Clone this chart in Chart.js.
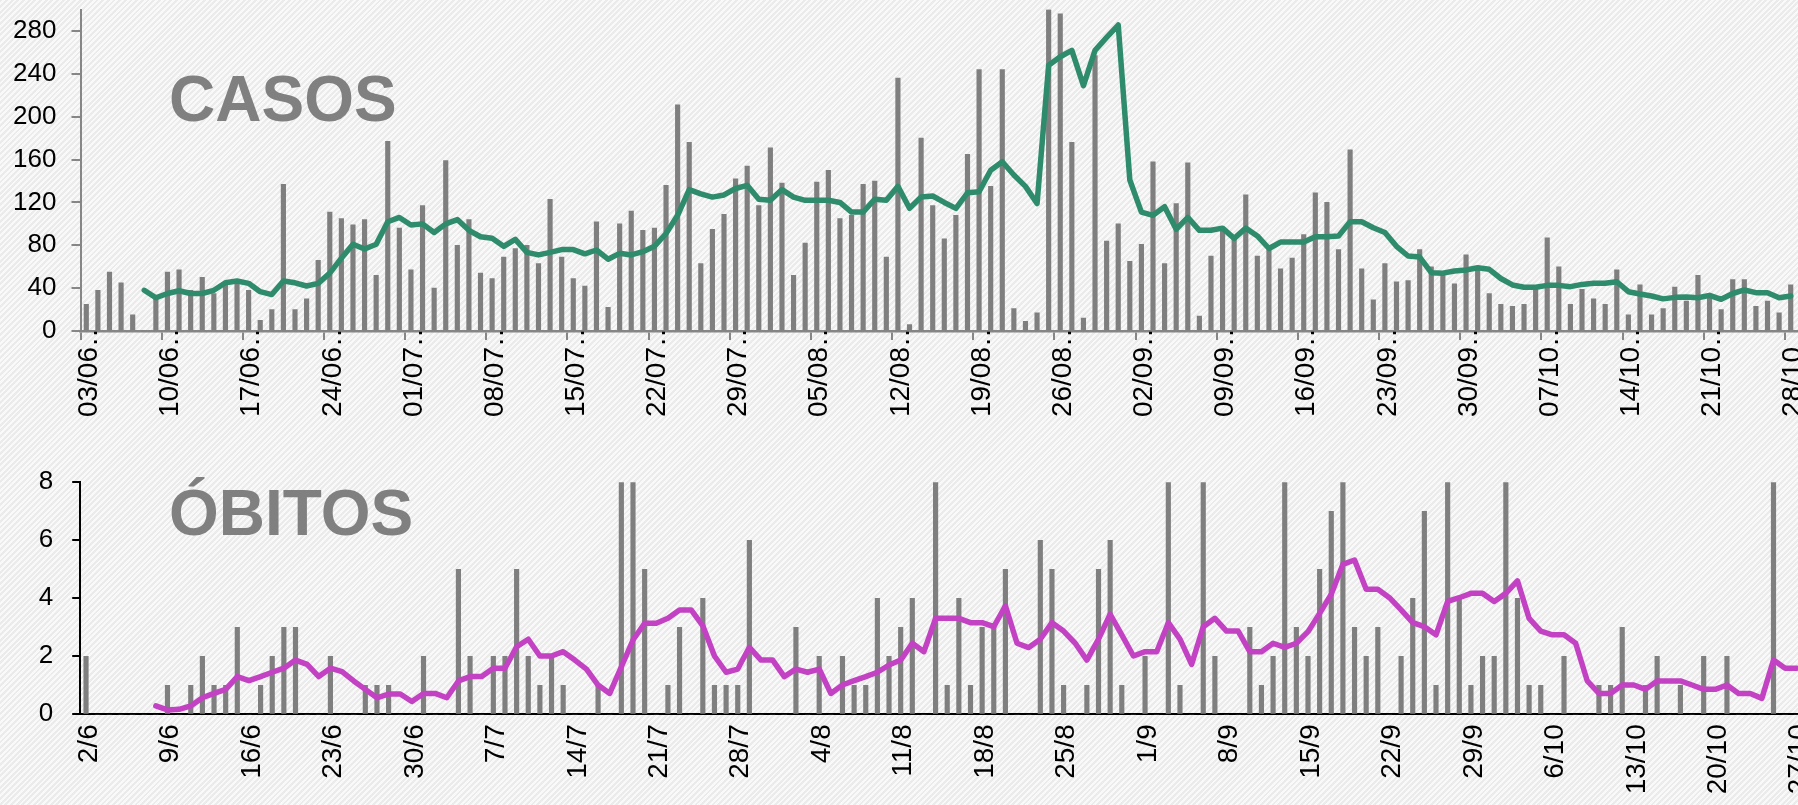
<!DOCTYPE html>
<html><head><meta charset="utf-8">
<script src="https://cdn.jsdelivr.net/npm/chart.js@4.4.1/dist/chart.umd.min.js"></script>
<style>
html,body{margin:0;padding:0;width:1798px;height:805px;overflow:hidden;}
body{position:relative;background:repeating-linear-gradient(135deg,#ebebeb 0px,#ebebeb 2px,#f9f9f9 2px,#f9f9f9 4px);font-family:'Liberation Sans',Arial,sans-serif;}
canvas{position:absolute;left:0;}
#c1{top:0px;}
#c2{top:440px;}
.title{position:absolute;left:169px;font-weight:bold;font-size:64px;line-height:64px;color:#808080;white-space:nowrap;font-family:'Liberation Sans',Arial,sans-serif;}
</style></head>
<body>
<canvas id="c1" width="1798" height="440"></canvas>
<canvas id="c2" width="1805" height="365"></canvas>
<div class="title" style="top:67px">CASOS</div>
<div class="title" style="top:481px">ÓBITOS</div>
<script>
// ---------- DATA ----------
const casosDates = ['03/06','04/06','05/06','06/06','07/06','08/06','09/06','10/06','11/06','12/06','13/06','14/06','15/06','16/06','17/06','18/06','19/06','20/06','21/06','22/06','23/06','24/06','25/06','26/06','27/06','28/06','29/06','30/06',
'01/07','02/07','03/07','04/07','05/07','06/07','07/07','08/07','09/07','10/07','11/07','12/07','13/07','14/07','15/07','16/07','17/07','18/07','19/07','20/07','21/07','22/07','23/07','24/07','25/07','26/07','27/07','28/07','29/07','30/07','31/07',
'01/08','02/08','03/08','04/08','05/08','06/08','07/08','08/08','09/08','10/08','11/08','12/08','13/08','14/08','15/08','16/08','17/08','18/08','19/08','20/08','21/08','22/08','23/08','24/08','25/08','26/08','27/08','28/08','29/08','30/08','31/08',
'01/09','02/09','03/09','04/09','05/09','06/09','07/09','08/09','09/09','10/09','11/09','12/09','13/09','14/09','15/09','16/09','17/09','18/09','19/09','20/09','21/09','22/09','23/09','24/09','25/09','26/09','27/09','28/09','29/09','30/09',
'01/10','02/10','03/10','04/10','05/10','06/10','07/10','08/10','09/10','10/10','11/10','12/10','13/10','14/10','15/10','16/10','17/10','18/10','19/10','20/10','21/10','22/10','23/10','24/10','25/10','26/10','27/10','28/10'];

const casosTickLabels = ['03/06…','10/06…','17/06…','24/06…','01/07…','08/07…','15/07…','22/07…','29/07…','05/08…','12/08…','19/08…','26/08…','02/09…','09/09…','16/09…','23/09…','30/09…','07/10…','14/10…','21/10…','28/10…'];

const casosYTicks = [0,40,80,120,160,200,240,280];

const casosDiarios = [25,38,55,45,15,0,30,55,57,38,50,35,43,45,38,10,20,137,20,30,66,111,105,99,104,52,177,96,57,117,40,159,80,104,54,49,69,77,80,63,
123,69,49,42,102,22,100,112,94,96,136,211,176,63,95,109,142,154,117,171,138,52,82,139,150,105,108,137,140,69,236,6,180,117,86,108,165,244,135,244,
21,9,17,300,296,176,12,257,84,100,65,81,158,63,119,157,14,70,93,86,127,70,76,58,68,90,129,120,76,169,58,29,63,46,47,76,60,55,44,71,
58,35,25,23,25,40,87,60,25,39,30,25,57,15,43,15,21,41,28,52,31,20,48,48,23,28,17,43];

const casosMedia = [null,null,null,null,null,38,31,35,37.6,35,35,38,45,46.7,44.5,36.7,34,46.7,45,42,44.5,54,68,81,76.5,81,102,106,99,100,92,100,104,94,88,86.5,79,85.5,73.4,71,
73.4,76,76,72,75.6,67,72.5,71,74,79,91,108,132,128,125,127,133,136,123,122,132,125,122,122,122,120,111,111,123,122,135,114.5,125,126,120,114.5,129,130,150,158,
145.6,135,119,248,256,262,229,262,274,285.6,141,111,108,116,95,106,94,94,96,86.5,96,88.7,77,83,83,83,88,88,88.7,102,102,96.4,92,79,70,69,54.4,54,56,57,
59,57.6,49,43,40.8,40.8,42.6,42.6,41.4,43.5,44.5,44.5,46,36.7,34.5,32.7,30,31.4,31.7,31,33.3,29.6,35,38.3,35.8,35.8,31,32.7];

const obitosDates = ['2/6','3/6','4/6','5/6','6/6','7/6','8/6','9/6','10/6','11/6','12/6','13/6','14/6','15/6','16/6','17/6','18/6','19/6','20/6','21/6','22/6','23/6','24/6','25/6','26/6','27/6','28/6','29/6','30/6',
'1/7','2/7','3/7','4/7','5/7','6/7','7/7','8/7','9/7','10/7','11/7','12/7','13/7','14/7','15/7','16/7','17/7','18/7','19/7','20/7','21/7','22/7','23/7','24/7','25/7','26/7','27/7','28/7','29/7','30/7','31/7',
'1/8','2/8','3/8','4/8','5/8','6/8','7/8','8/8','9/8','10/8','11/8','12/8','13/8','14/8','15/8','16/8','17/8','18/8','19/8','20/8','21/8','22/8','23/8','24/8','25/8','26/8','27/8','28/8','29/8','30/8','31/8',
'1/9','2/9','3/9','4/9','5/9','6/9','7/9','8/9','9/9','10/9','11/9','12/9','13/9','14/9','15/9','16/9','17/9','18/9','19/9','20/9','21/9','22/9','23/9','24/9','25/9','26/9','27/9','28/9','29/9','30/9',
'1/10','2/10','3/10','4/10','5/10','6/10','7/10','8/10','9/10','10/10','11/10','12/10','13/10','14/10','15/10','16/10','17/10','18/10','19/10','20/10','21/10','22/10','23/10','24/10','25/10','26/10','27/10'];

const obitosTickLabels = ['2/6','9/6','16/6','23/6','30/6','7/7','14/7','21/7','28/7','4/8','11/8','18/8','25/8','1/9','8/9','15/9','22/9','29/9','6/10','13/10','20/10','27/10'];

const obitosDiarios = [2,0,0,0,0,0,0,1,0,1,2,1,1,3,0,1,2,3,3,0,0,2,0,0,1,1,1,0,0,2,0,0,5,2,0,2,2,5,2,1,
2,1,0,0,1,0,8,8,5,0,1,3,0,4,1,1,1,6,0,0,0,3,0,2,0,2,1,1,4,2,3,4,0,8,1,4,1,3,3,5,
0,0,6,5,1,0,1,5,6,1,0,2,0,8,1,0,8,2,0,0,3,1,2,8,3,2,5,7,8,3,2,3,0,2,4,7,1,8,4,1,
2,2,8,4,1,1,0,2,0,0,1,1,3,0,1,2,0,1,0,2,0,2,0,0,0,8,0,0];

const obitosMedia = [null,null,null,null,null,null,0.29,0.15,0.17,0.29,0.57,0.72,0.86,1.3,1.16,1.3,1.45,1.59,1.87,1.72,1.3,1.59,1.47,1.15,0.86,0.57,0.7,0.7,0.44,0.72,0.72,0.57,1.15,1.3,1.3,1.59,1.59,2.33,2.59,2.01,
2.01,2.16,1.87,1.56,1.01,0.72,1.64,2.56,3.14,3.14,3.31,3.6,3.6,3.05,2.01,1.45,1.56,2.31,1.87,1.87,1.3,1.56,1.45,1.56,0.72,1.01,1.16,1.3,1.45,1.7,1.87,2.45,2.16,3.31,3.31,3.31,3.16,3.16,3.02,3.74,
2.45,2.3,2.59,3.16,2.87,2.45,1.87,2.59,3.45,2.74,2.01,2.16,2.16,3.16,2.59,1.72,3.02,3.31,2.87,2.87,2.16,2.16,2.45,2.31,2.45,2.85,3.48,4.14,5.17,5.32,4.31,4.31,4.02,3.6,3.16,3.02,2.74,3.89,4.02,4.17,
4.17,3.89,4.17,4.6,3.31,2.87,2.74,2.74,2.45,1.15,0.72,0.72,1.01,1.01,0.86,1.15,1.15,1.15,1.01,0.86,0.86,1.01,0.72,0.72,0.55,1.87,1.59,1.59];

// ---------- STYLE ----------
const FONT = "'Liberation Sans', Arial, sans-serif";
const BAR = '#7f7f7f';
const AXIS_GRAY = '#868686';
const GREEN = '#2e8b6c';
const MAGENTA = '#c342c3';
const TRANSPARENT = 'rgba(0,0,0,0)';
Chart.defaults.font.family = FONT;

function fixY(width) {
  return s => { s.width = width; s.paddingTop = 0; s.paddingBottom = 0; };
}
function fixX(height) {
  return s => { s.height = height; s.paddingLeft = 0; s.paddingRight = 0; };
}

// ---------- CASOS ----------
new Chart(document.getElementById('c1'), {
  type: 'bar',
  data: {labels: casosDates, datasets: [
    {type: 'line', data: casosMedia, borderColor: GREEN, borderWidth: 5.5, pointRadius: 0, tension: 0,
     borderJoinStyle: 'round', borderCapStyle: 'round', order: 0},
    {type: 'bar', data: casosDiarios, backgroundColor: BAR, barThickness: 4.5, order: 1}]},
  options: {
    responsive: false, animation: false, devicePixelRatio: 1,
    layout: {padding: {left: 0, right: 1.5, top: 9.6, bottom: 0}},
    plugins: {legend: {display: false}, tooltip: {enabled: false}},
    scales: {
      x: {offset: true,
        grid: {offset: true, drawOnChartArea: false, drawTicks: true, tickLength: 9, lineWidth: 2,
               color: c => (c.index % 7 === 0 ? AXIS_GRAY : TRANSPARENT)},
        border: {color: AXIS_GRAY, width: 2.5},
        ticks: {autoSkip: false, maxRotation: 90, minRotation: 90, padding: -21, labelOffset: 3,
                color: '#000', font: {size: 28, family: FONT},
                callback: (v, i) => (i % 7 === 0 ? casosTickLabels[i / 7] : '')},
        afterFit: fixX(440 - 331)},
      y: {min: 0, max: 300, bounds: 'data',
        afterBuildTicks: s => { s.ticks = casosYTicks.map(v => ({value: v})); },
        grid: {drawOnChartArea: false, tickLength: 9, lineWidth: 2, color: AXIS_GRAY},
        border: {color: AXIS_GRAY, width: 2},
        ticks: {padding: 15, color: '#000', font: {size: 26, family: FONT}},
        afterFit: fixY(80.5)}
    }
  }
});

// ---------- ÓBITOS ----------
new Chart(document.getElementById('c2'), {
  type: 'bar',
  data: {labels: obitosDates, datasets: [
    {type: 'line', data: obitosMedia, borderColor: MAGENTA, borderWidth: 5.5, pointRadius: 0, tension: 0,
     borderJoinStyle: 'round', borderCapStyle: 'round', order: 0},
    {type: 'bar', data: obitosDiarios, backgroundColor: BAR, barThickness: 4.5, order: 1}]},
  options: {
    responsive: false, animation: false, devicePixelRatio: 1,
    layout: {padding: {left: 0, right: 2.4, top: 42.3, bottom: 0}},
    plugins: {legend: {display: false}, tooltip: {enabled: false}},
    scales: {
      x: {offset: true,
        grid: {offset: true, drawOnChartArea: false, drawTicks: false},
        border: {color: '#000', width: 2},
        ticks: {autoSkip: false, maxRotation: 90, minRotation: 90, padding: 10, labelOffset: 3,
                color: '#000', font: {size: 28, family: FONT},
                callback: (v, i) => (i % 7 === 0 ? obitosTickLabels[i / 7] : '')},
        afterFit: fixX(365 - 274.3)},
      y: {min: 0, max: 8,
        grid: {drawOnChartArea: false, tickLength: 8, lineWidth: 2, color: '#000'},
        border: {color: '#000', width: 2},
        ticks: {stepSize: 2, padding: 19, color: '#000', font: {size: 26, family: FONT}},
        afterFit: fixY(80.2)}
    }
  }
});
</script>
</body></html>
